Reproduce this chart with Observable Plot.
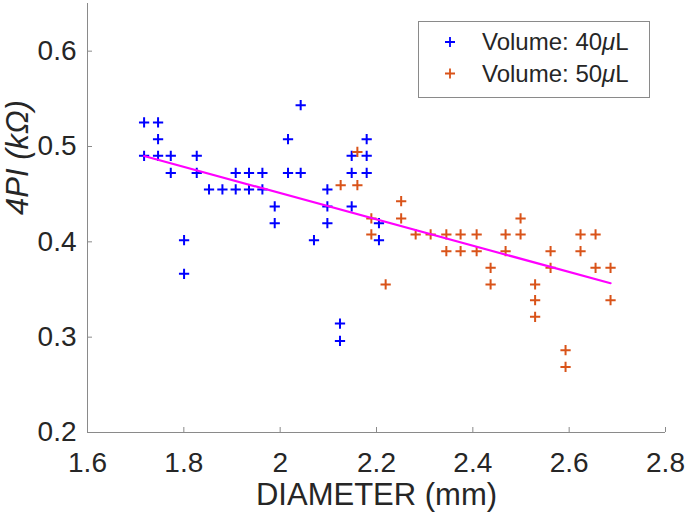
<!DOCTYPE html>
<html>
<head>
<meta charset="utf-8">
<script src="https://cdn.jsdelivr.net/npm/d3@7"></script>
<script src="https://cdn.jsdelivr.net/npm/@observablehq/plot@0.6"></script>
<style>
  body { margin: 0; background: #fff; }
  #wrap { position: relative; width: 685px; height: 519px; font-family: "Liberation Sans", Arial, sans-serif; }
  #legend { position: absolute; left: 418px; top: 21px; }
</style>
</head>
<body>
<div id="wrap"></div>
<script>
// ---- data ----
const xTicks = [1.6, 1.8, 2.0, 2.2, 2.4, 2.6, 2.8];
const yTicks = [0.2, 0.3, 0.4, 0.5, 0.6];
const xDomain = [1.6, 2.8];
const yDomain = [0.2, 0.65];

const series = ["Volume: 40μL", "Volume: 50μL"];
const seriesColors = ["#0000ff", "#d95319"];

// Volume 40 µL (blue)
const blueX = [1.7175, 1.7175, 1.7465, 1.7465, 1.7465, 1.7729, 1.7729, 1.8005, 1.8005,
  1.8268, 1.8268, 1.8523, 1.8801, 1.9077, 1.9077, 1.9353, 1.9353, 1.9631, 1.9631,
  1.9887, 1.9887, 2.0163, 2.0163, 2.0426, 2.0426, 2.0702, 2.098, 2.098, 2.098,
  2.1242, 2.1242, 2.1485, 2.1485, 2.1485, 2.1796, 2.1796, 2.1796, 2.2051, 2.2051];
const blueY = [0.5252, 0.4902, 0.5252, 0.5077, 0.4902, 0.4902, 0.4723, 0.4017, 0.3664,
  0.4902, 0.4723, 0.4549, 0.4549, 0.4723, 0.4549, 0.4723, 0.4549, 0.4723, 0.4549,
  0.4371, 0.4196, 0.5077, 0.4723, 0.5433, 0.4723, 0.4017, 0.4549, 0.4371, 0.4196,
  0.3143, 0.2961, 0.4902, 0.4723, 0.4371, 0.5077, 0.4902, 0.4723, 0.4196, 0.4017];

// Volume 50 µL (orange)
const orangeX = [2.1256, 2.1603, 2.1603, 2.1893, 2.1893, 2.219, 2.2512, 2.2512, 2.2813,
  2.3124, 2.345, 2.345, 2.3746, 2.3746, 2.4079, 2.4079, 2.4369, 2.4369, 2.468, 2.468,
  2.4991, 2.4991, 2.5293, 2.5293, 2.5293, 2.5614, 2.5614, 2.5925, 2.5925, 2.6236, 2.6236,
  2.6548, 2.6548, 2.6859, 2.6859];
const orangeY = [0.4594, 0.4943, 0.4594, 0.4245, 0.4077, 0.3553, 0.4426, 0.4245, 0.4077,
  0.4077, 0.4077, 0.3902, 0.4077, 0.3902, 0.4077, 0.3902, 0.3727, 0.3553, 0.4077, 0.3902,
  0.4245, 0.4077, 0.3553, 0.3388, 0.3213, 0.3902, 0.3727, 0.2863, 0.2688, 0.4077, 0.3902,
  0.4077, 0.3727, 0.3727, 0.3388];

// linear fit over all points
const fitIntercept = 0.7267;
const fitSlope = -0.1378;

// ---- build tables ----
const blue = blueX.map((x, i) => ({x, y: blueY[i]}));
const orange = orangeX.map((x, i) => ({x, y: orangeY[i]}));
const allX = blueX.concat(orangeX);
const fitLine = [d3.min(allX), d3.max(allX)].map(x => ({x, y: fitIntercept + fitSlope * x}));

const axisColor = "#8a8a8a";
const textColor = "#262626";
const fmt = d => String(Math.round(d * 10) / 10);

const chart = Plot.plot({
  width: 685,
  height: 519,
  marginLeft: 87,
  marginRight: 20,
  marginTop: 3,
  marginBottom: 87,
  style: {fontFamily: '"Liberation Sans", Arial, sans-serif', background: "#fff", color: textColor, overflow: "visible"},
  x: {domain: xDomain, ticks: xTicks, tickFormat: fmt},
  y: {domain: yDomain, ticks: yTicks, tickFormat: fmt},
  marks: [
    Plot.ruleY([yDomain[0]], {stroke: axisColor, strokeWidth: 1}),
    Plot.ruleX([xDomain[0]], {stroke: axisColor, strokeWidth: 1}),
    Plot.axisX({ticks: xTicks, tickSize: -5, tickPadding: 25, stroke: axisColor, fontSize: 28, label: null, color: textColor, tickFormat: fmt}),
    Plot.axisY({ticks: yTicks, tickSize: -5, tickPadding: 16, stroke: axisColor, fontSize: 28, label: null, color: textColor, tickFormat: fmt}),
    Plot.text(["DIAMETER (mm)"], {frameAnchor: "bottom", dy: 72, fontSize: 31, fill: textColor}),
    Plot.text(["4PI (kΩ)"], {frameAnchor: "left", dx: -69, dy: -3, rotate: -90, fontSize: 31, fontStyle: "italic", fill: textColor}),
    Plot.dot(blue, {x: "x", y: "y", symbol: "plus", r: 3.4, stroke: seriesColors[0], strokeWidth: 2}),
    Plot.dot(orange, {x: "x", y: "y", symbol: "plus", r: 3.4, stroke: seriesColors[1], strokeWidth: 2}),
    Plot.line(fitLine, {x: "x", y: "y", stroke: "#ff00ff", strokeWidth: 2.2})
  ]
});

const wrap = document.getElementById("wrap");
wrap.appendChild(chart);

// legend (inside the axes, top-right)
const lg = d3.create("svg").attr("id", "legend").attr("width", 232).attr("height", 77);
lg.append("rect").attr("x", 0.5).attr("y", 0.5).attr("width", 231).attr("height", 76)
  .attr("fill", "#fff").attr("stroke", axisColor).attr("stroke-width", 1);
series.forEach((s, i) => {
  const cy = 21 + i * 31.5;
  lg.append("path").attr("d", `M${32 - 5},${cy}h10M32,${cy - 5}v10`)
    .attr("stroke", seriesColors[i]).attr("stroke-width", 1.8).attr("fill", "none");
  const t = lg.append("text").attr("x", 64).attr("y", cy + 8.3)
    .attr("font-size", 24).attr("fill", textColor)
    .attr("font-family", '"Liberation Sans", Arial, sans-serif');
  const [pre, post] = s.split("μ");
  t.append("tspan").text(pre);
  t.append("tspan").attr("font-style", "italic").text("μ");
  t.append("tspan").text(post);
});
wrap.appendChild(lg.node());
</script>
</body>
</html>
